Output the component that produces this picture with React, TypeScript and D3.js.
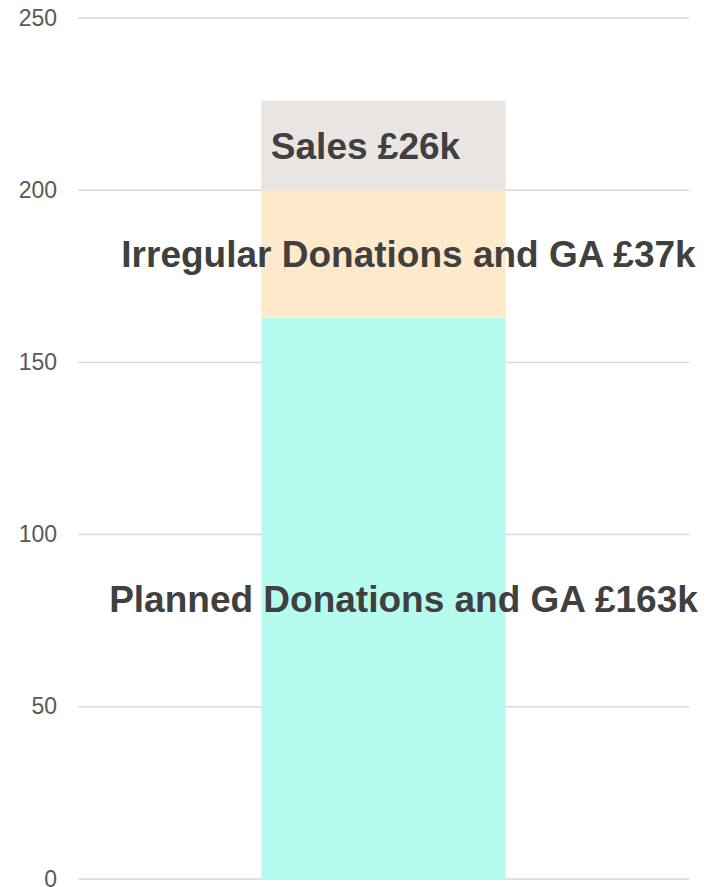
import React, { useEffect, useRef } from 'react';
import * as d3 from 'd3';

// data
const categories = ['Income'];
const seriesNames = ['Planned Donations and GA', 'Irregular Donations and GA', 'Sales'];
const seriesValues = [163, 37, 26];
const seriesLabels = ['Planned Donations and GA £163k', 'Irregular Donations and GA £37k', 'Sales £26k'];
const yTicks = [0, 50, 100, 150, 200, 250];

const colors = ['#b5fcee', '#ffe9cb', '#e9e5e2'];
// horizontal nudge of each label from bar centre
const labelShift = [20, 25, -18];

const App = () => {
  const ref = useRef<SVGSVGElement>(null);
  const width = 709;
  const height = 887;

  useEffect(() => {
    const svg = d3.select(ref.current);
    svg.selectAll('*').remove();

    const margin = { top: 18, right: 20, bottom: 8, left: 78 };
    const innerWidth = width - margin.left - margin.right;
    const innerHeight = height - margin.top - margin.bottom;

    const g = svg.append('g')
      .attr('transform', `translate(${margin.left},${margin.top})`);

    const x = d3.scaleBand()
      .domain(categories)
      .range([0, innerWidth])
      .padding(0.4286);

    const y = d3.scaleLinear()
      .domain([0, 250])
      .range([innerHeight, 0]);

    // gridlines
    g.selectAll('line.grid')
      .data(yTicks)
      .enter()
      .append('line')
      .attr('x1', 0)
      .attr('x2', innerWidth)
      .attr('y1', d => y(d))
      .attr('y2', d => y(d))
      .attr('stroke', '#d9d9d9')
      .attr('stroke-width', 1.5);

    // tick labels
    g.selectAll('text.tick')
      .data(yTicks)
      .enter()
      .append('text')
      .attr('x', -21)
      .attr('y', d => y(d) + 7.6)
      .attr('text-anchor', 'end')
      .style('font-family', 'Liberation Sans, Arial, sans-serif')
      .style('font-size', '23px')
      .attr('fill', '#595959')
      .text(d => d);

    // stacked segments
    const stacked = seriesValues.map((v, i) => {
      const start = d3.sum(seriesValues.slice(0, i));
      return { name: seriesNames[i], y0: start, y1: start + v, color: colors[i], label: seriesLabels[i], shift: labelShift[i] };
    });

    const x0 = x(categories[0]) as number;

    g.selectAll('rect.seg')
      .data(stacked)
      .enter()
      .append('rect')
      .attr('x', x0)
      .attr('width', x.bandwidth())
      .attr('y', d => y(d.y1))
      .attr('height', d => y(d.y0) - y(d.y1))
      .attr('fill', d => d.color);

    // segment labels
    g.selectAll('text.seg')
      .data(stacked)
      .enter()
      .append('text')
      .attr('x', d => x0 + x.bandwidth() / 2 + d.shift)
      .attr('y', d => y((d.y0 + d.y1) / 2) + 37 * 0.36)
      .attr('text-anchor', 'middle')
      .style('font-family', 'Liberation Sans, Arial, sans-serif')
      .style('font-size', '37px')
      .style('font-weight', 'bold')
      .attr('fill', '#404040')
      .text(d => d.label);
  }, []);

  return (
    <svg
      ref={ref}
      width={width}
      height={height}
      style={{ position: 'absolute', left: 0, top: 0, background: '#fff' }}
    />
  );
};

export default App;
